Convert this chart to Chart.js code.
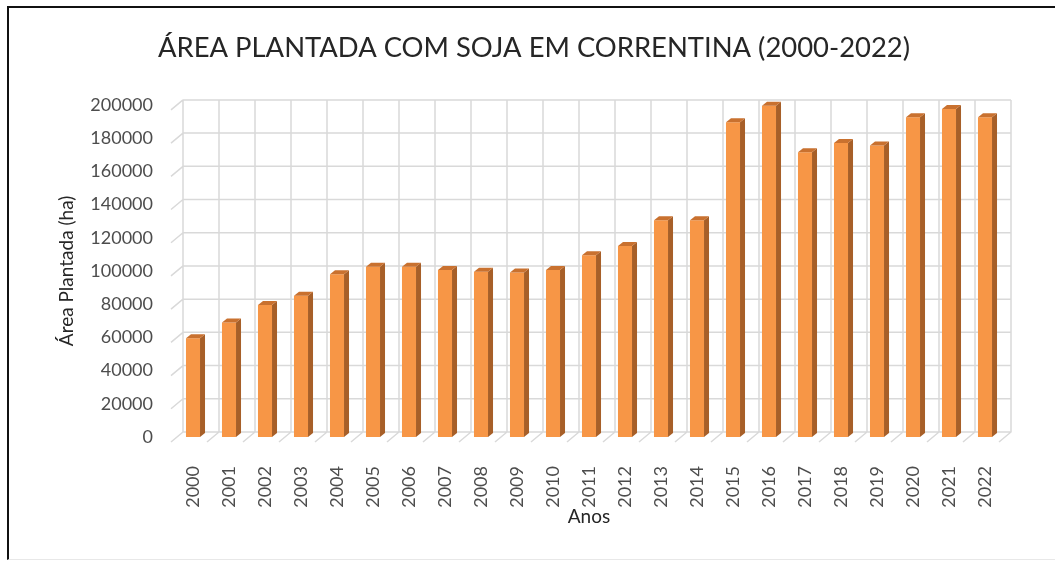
<!DOCTYPE html>
<html>
<head>
<meta charset="utf-8">
<script src="https://cdn.jsdelivr.net/npm/chart.js@4.4.1/dist/chart.umd.min.js"></script>
<style>
  body { margin: 0; background: #fff; }
  #wrap { position: relative; width: 1055px; height: 561px; overflow: hidden; }
  #frame {
    position: absolute; left: 7px; top: 6px; width: 1100px; height: 551px;
    border-top: 2px solid #111; border-left: 2px solid #111; border-bottom: 1px solid #e8e8e8;
    pointer-events: none;
  }
</style>
</head>
<body>
<div id="wrap">
  <canvas id="grafico" width="1055" height="561"></canvas>
  <div id="frame"></div>
</div>
<script>
const anos = ['2000', '2001', '2002', '2003', '2004', '2005', '2006', '2007', '2008', '2009', '2010', '2011',
              '2012', '2013', '2014', '2015', '2016', '2017', '2018', '2019', '2020', '2021', '2022'];
const areaPlantada = [59500, 69000, 79500, 85000, 98000, 102500, 102500, 100500, 99500, 99000, 100500, 109500,
                      115000, 130500, 130500, 189500, 199500, 171500, 177000, 175500, 192500, 197500, 192500];
const eixoY = { min: 0, max: 200000, passo: 20000 };

const FONTE = 'Lato, "Open Sans", sans-serif';
const LARANJA = '#f79646';
const LATERAL = '#a75f28';
const TOPO = '#c9712f';
const GRADE = '#d9d9d9';
const TEXTO_EIXO = '#4d4d4d';

// deslocamentos da "profundidade" 3D em relacao ao plano das barras
const FUNDO = { dx: 8, dy: -5 };
const FRENTE = { dx: -4, dy: 5 };
const PROF = { dx: 5, dy: -4 };

const grade3d = {
    id: 'grade3d',
    beforeDatasetsDraw(chart) {
        const { ctx, chartArea: a, scales: { x, y } } = chart;
        const meia = (x.getPixelForValue(1) - x.getPixelForValue(0)) / 2;
        ctx.save();
        ctx.strokeStyle = GRADE;
        ctx.lineWidth = 1.5;
        ctx.beginPath();
        y.ticks.forEach(t => {
            const py = y.getPixelForValue(t.value) + FUNDO.dy;
            ctx.moveTo(a.left + FUNDO.dx, py);
            ctx.lineTo(a.right + FUNDO.dx, py);
            ctx.moveTo(a.left + FUNDO.dx, py);
            ctx.lineTo(a.left + FRENTE.dx, py + FRENTE.dy - FUNDO.dy);
        });
        for (let i = 0; i <= anos.length; i++) {
            const px = x.getPixelForValue(i) - meia;
            ctx.moveTo(px + FUNDO.dx, a.top + FUNDO.dy);
            ctx.lineTo(px + FUNDO.dx, a.bottom + FUNDO.dy);
            ctx.lineTo(px + FRENTE.dx, a.bottom + FRENTE.dy);
        }
        ctx.stroke();
        ctx.restore();
    }
};

const barras3d = {
    id: 'barras3d',
    afterDatasetsDraw(chart) {
        const ctx = chart.ctx;
        chart.getDatasetMeta(0).data.forEach(bar => {
            const { x, y, base, width } = bar.getProps(['x', 'y', 'base', 'width'], true);
            const l = x - width / 2, r = x + width / 2;
            ctx.save();
            ctx.fillStyle = LATERAL;
            ctx.beginPath();
            ctx.moveTo(r, y);
            ctx.lineTo(r + PROF.dx, y + PROF.dy);
            ctx.lineTo(r + PROF.dx, base + PROF.dy);
            ctx.lineTo(r, base);
            ctx.closePath();
            ctx.fill();
            ctx.fillStyle = TOPO;
            ctx.beginPath();
            ctx.moveTo(l, y);
            ctx.lineTo(l + PROF.dx, y + PROF.dy);
            ctx.lineTo(r + PROF.dx, y + PROF.dy);
            ctx.lineTo(r, y);
            ctx.closePath();
            ctx.fill();
            ctx.restore();
        });
    }
};

new Chart(document.getElementById('grafico'), {
    type: 'bar',
    data: {
        labels: anos,
        datasets: [{
            label: 'Área Plantada (ha)',
            data: areaPlantada,
            backgroundColor: LARANJA,
            barPercentage: 0.39,
            categoryPercentage: 1
        }]
    },
    options: {
        responsive: false,
        animation: false,
        layout: { padding: { left: 13, right: 0, top: 0, bottom: 0 } },
        plugins: {
            legend: { display: false },
            tooltip: { enabled: false },
            title: {
                display: true,
                text: 'ÁREA PLANTADA COM SOJA EM CORRENTINA (2000-2022)',
                color: '#262626',
                font: { family: FONTE, size: 27.4, weight: 'normal' },
                padding: { top: 32, bottom: 40 }
            }
        },
        scales: {
            x: {
                grid: { display: false, drawTicks: false },
                border: { display: false },
                ticks: {
                    color: TEXTO_EIXO, autoSkip: false, minRotation: 90, maxRotation: 90, padding: 29,
                    font: { family: FONTE, size: 18 }
                },
                title: {
                    display: true, text: 'Anos', color: '#262626',
                    font: { family: FONTE, size: 19 }, padding: { top: 0, bottom: 33 }
                },
                afterFit(s) { s.height = 124; }
            },
            y: {
                min: eixoY.min, max: eixoY.max,
                grid: { display: false, drawTicks: false },
                border: { display: false },
                ticks: {
                    stepSize: eixoY.passo, padding: 22, color: TEXTO_EIXO,
                    font: { family: FONTE, size: 18 },
                    callback: v => String(v)
                },
                title: {
                    display: true, text: 'Área Plantada (ha)', color: '#262626',
                    font: { family: FONTE, size: 19 }, padding: { top: 42, bottom: 0 }
                },
                afterFit(s) { s.width = 162; }
            },
            direita: {
                type: 'linear', position: 'right',
                grid: { display: false, drawTicks: false },
                border: { display: false },
                ticks: { display: false },
                afterFit(s) { s.width = 52; }
            }
        }
    },
    plugins: [grade3d, barras3d]
});
</script>
</body>
</html>
